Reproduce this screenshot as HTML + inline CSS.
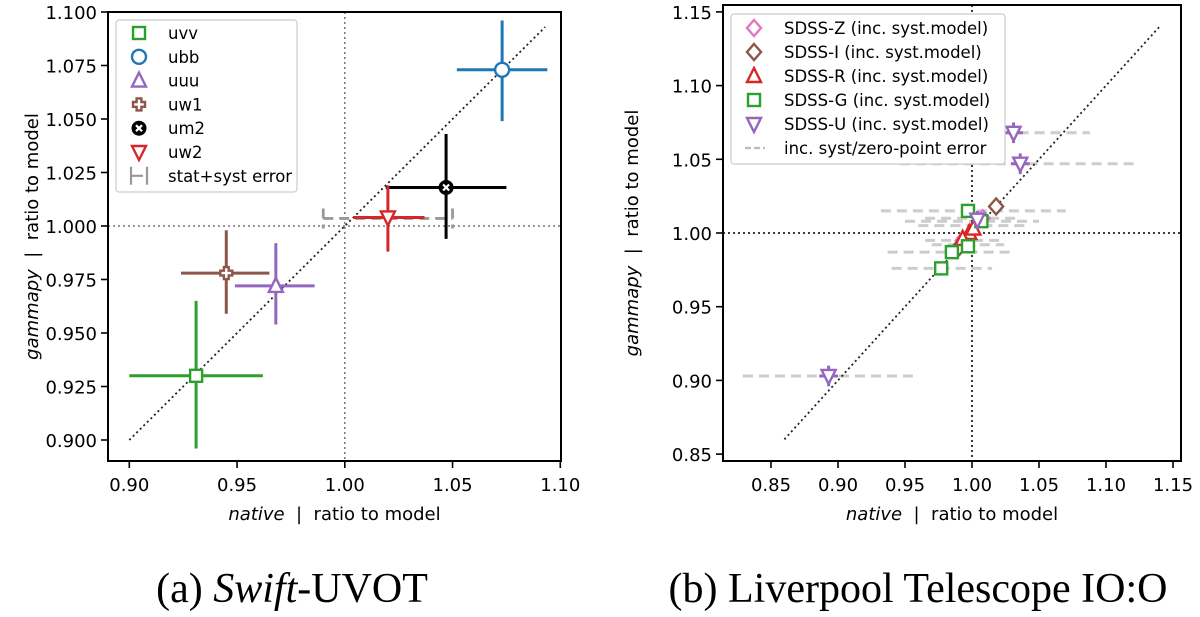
<!DOCTYPE html>
<html><head><meta charset="utf-8"><style>
html,body{margin:0;padding:0;background:#fff;}
svg{display:block;font-family:"DejaVu Sans","Liberation Sans",sans-serif;}
.tick{font-size:18px;fill:#000;}
.cap{font-family:"Liberation Serif",serif;font-size:42px;}
.ttl{white-space:pre;}
</style></head><body>
<svg id="svg" width="1200" height="617" viewBox="0 0 1200 617">
<g id="L"></g>
<g id="R"></g>
<text class="cap" x="292" y="602" text-anchor="middle">(a) <tspan font-style="italic">Swift</tspan>-UVOT</text>
<text class="cap" x="918" y="602" text-anchor="middle">(b) Liverpool Telescope IO:O</text>
</svg>
<script>
// ---- Left panel data ----
const swiftBands = ["uvv","ubb","uuu","uw1","um2","uw2"];
const swiftX = [0.931,1.073,0.968,0.945,1.047,1.020];
const swiftY = [0.930,1.073,0.972,0.978,1.018,1.004];
const swiftXlo = [0.900,1.052,0.949,0.924,1.019,1.004];
const swiftXhi = [0.962,1.094,0.986,0.965,1.075,1.037];
const swiftYlo = [0.896,1.049,0.954,0.959,0.994,0.988];
const swiftYhi = [0.965,1.096,0.992,0.998,1.043,1.019];
const swiftSystLo = [0.990];
const swiftSystHi = [1.050];
const swiftColors = ["#2ca02c","#1f77b4","#9467bd","#8c564b","#000000","#d62728"];
const swiftMarkers = ["s","o","^","P","X","v"];
const leftXTicks = [0.90,0.95,1.00,1.05,1.10];
const leftYTicks = [0.900,0.925,0.950,0.975,1.000,1.025,1.050,1.075,1.100];
// ---- Right panel data ----
const lvBands = ["SDSS-Z","SDSS-I","SDSS-R","SDSS-G","SDSS-U"];
const lvX = [[1.008,0.993],[1.018,0.990],[0.998,0.993,1.001],[0.997,1.007,0.997,0.985,0.977],[0.893,1.031,1.036,1.004]];
const lvY = [[1.010,0.995],[1.018,0.990],[1.000,0.996,1.003],[1.015,1.008,0.991,0.987,0.976],[0.903,1.068,1.047,1.009]];
const lvXerr = [[0.003,0.003],[0.002,0.002],[0.004,0.004,0.004],[0.002,0.002,0.002,0.002,0.002],[0.007,0.007,0.007,0.003]];
const lvYerr = [[0.002,0.002],[0.002,0.002],[0.003,0.003,0.003],[0.002,0.002,0.002,0.002,0.002],[0.007,0.007,0.007,0.006]];
const lvSystY = [0.903,1.068,1.047,1.015,1.008,1.010,1.005,0.995,0.992,0.987,0.976];
const lvSystLo = [0.829,0.975,0.946,0.932,0.950,0.965,0.960,0.965,0.970,0.937,0.940];
const lvSystHi = [0.956,1.088,1.125,1.070,1.050,1.035,1.040,1.025,1.024,1.031,1.015];
const lvColors = ["#e377c2","#8c564b","#d62728","#2ca02c","#9467bd"];
const lvMarkers = ["D","D","^","s","v"];
const rightXTicks = [0.85,0.90,0.95,1.00,1.05,1.10,1.15];
const rightYTicks = [0.85,0.90,0.95,1.00,1.05,1.10,1.15];

const NS="http://www.w3.org/2000/svg";
function mk(p,t,a){const e=document.createElementNS(NS,t);for(const k in a)e.setAttribute(k,a[k]);p.appendChild(e);return e;}
function marker(g,type,cx,cy,r,col,fill){
  let e;
  if(type==="s") e=mk(g,"rect",{x:cx-r,y:cy-r,width:2*r,height:2*r});
  else if(type==="o") e=mk(g,"circle",{cx:cx,cy:cy,r:r+1});
  else if(type==="D") e=mk(g,"polygon",{points:`${cx},${cy-r-2} ${cx+r+1},${cy} ${cx},${cy+r+2} ${cx-r-1},${cy}`});
  else if(type==="^") e=mk(g,"polygon",{points:`${cx},${cy-r-2} ${cx+r+1},${cy+r} ${cx-r-1},${cy+r}`});
  else if(type==="v") e=mk(g,"polygon",{points:`${cx},${cy+r+2} ${cx+r+1},${cy-r} ${cx-r-1},${cy-r}`});
  else if(type==="P"){const a=r*0.4;e=mk(g,"polygon",{points:`${cx-a},${cy-r} ${cx+a},${cy-r} ${cx+a},${cy-a} ${cx+r},${cy-a} ${cx+r},${cy+a} ${cx+a},${cy+a} ${cx+a},${cy+r} ${cx-a},${cy+r} ${cx-a},${cy+a} ${cx-r},${cy+a} ${cx-r},${cy-a} ${cx-a},${cy-a}`});}
  else if(type==="X"){e=mk(g,"circle",{cx:cx,cy:cy,r:r+1});e.setAttribute("fill",col);e.setAttribute("stroke",col);
    mk(g,"path",{d:`M${cx-3},${cy-3}L${cx+3},${cy+3}M${cx-3},${cy+3}L${cx+3},${cy-3}`,stroke:"#fff","stroke-width":2.2});return e;}
  e.setAttribute("fill",fill||"#fff");e.setAttribute("stroke",col);e.setAttribute("stroke-width",2.4);
  return e;
}
function axes(g,box,xs,ys,xt,yt,xfmt,yfmt){
  mk(g,"rect",{x:box.x0,y:box.y0,width:box.x1-box.x0,height:box.y1-box.y0,fill:"none",stroke:"#000","stroke-width":2});
  xt.forEach(v=>{const x=xs(v);mk(g,"line",{x1:x,x2:x,y1:box.y1,y2:box.y1+7,stroke:"#000","stroke-width":1.6});
    const t=mk(g,"text",{x:x,y:box.y1+30,"text-anchor":"middle",class:"tick"});t.textContent=v.toFixed(xfmt);
    
    });
  yt.forEach(v=>{const y=ys(v);mk(g,"line",{x1:box.x0-7,x2:box.x0,y1:y,y2:y,stroke:"#000","stroke-width":1.6});
    const t=mk(g,"text",{x:box.x0-11,y:y+7,"text-anchor":"end",class:"tick"});t.textContent=v.toFixed(yfmt);
    
    });
  const xl=mk(g,"text",{x:(box.x0+box.x1)/2,y:box.y1+59,"text-anchor":"middle","font-size":"18",class:"ttl"});
  xl.innerHTML='<tspan font-style="italic">native</tspan>  |  ratio to model';
  
  
  const cx=box.yl, cy=(box.y0+box.y1)/2;
  const yl=mk(g,"text",{x:cx,y:cy,"text-anchor":"middle","font-size":"18",class:"ttl",transform:`rotate(-90 ${cx} ${cy})`});
  yl.innerHTML='<tspan font-style="italic">gammapy</tspan>  |  ratio to model';
  
  
}
// ---------- LEFT ----------
(function(){
  const g=document.getElementById("L");
  const box={x0:108,x1:561,y0:12,y1:461,yl:38};
  const xs=v=>129.3+(v-0.9)*2155, ys=v=>226-(v-1)*2140;
  mk(g,"line",{x1:xs(1),x2:xs(1),y1:box.y0,y2:box.y1,stroke:"#777","stroke-width":1.5,"stroke-dasharray":"2,3"});
  mk(g,"line",{x1:box.x0,x2:box.x1,y1:ys(1),y2:ys(1),stroke:"#777","stroke-width":1.5,"stroke-dasharray":"2,3"});
  mk(g,"line",{x1:xs(0.9),y1:ys(0.9),x2:xs(1.093),y2:ys(1.093),stroke:"#222","stroke-width":1.8,"stroke-dasharray":"2,3"});
  const sy=ys(swiftY[5])+1;
  const sl=mk(g,"path",{d:`M${xs(swiftSystLo[0])},${sy}H${xs(swiftSystHi[0])}M${xs(swiftSystLo[0])},${sy-10}v20M${xs(swiftSystHi[0])},${sy-10}v20`,stroke:"#999","stroke-width":2.8,"stroke-dasharray":"10,6",fill:"none"});
  
  
  swiftBands.forEach((b,i)=>{
    const c=swiftColors[i];const pg=mk(g,"g",{});
    
    
    mk(pg,"line",{x1:xs(swiftXlo[i]),x2:xs(swiftXhi[i]),y1:ys(swiftY[i]),y2:ys(swiftY[i]),stroke:c,"stroke-width":3});
    mk(pg,"line",{x1:xs(swiftX[i]),x2:xs(swiftX[i]),y1:ys(swiftYlo[i]),y2:ys(swiftYhi[i]),stroke:c,"stroke-width":3});
    marker(pg,swiftMarkers[i],xs(swiftX[i]),ys(swiftY[i]),6,c);
  });
  axes(g,box,xs,ys,leftXTicks,leftYTicks,2,3);
  const lg=mk(g,"g",{});
  
  
  mk(lg,"rect",{x:116,y:20,width:181,height:172,rx:3,fill:"#fff",stroke:"#ccc","stroke-width":1.2});
  swiftBands.concat(["stat+syst error"]).forEach((b,i)=>{
    const y=33+i*23.8;
    if(i<6) marker(lg,swiftMarkers[i],139,y,6,swiftColors[i]);
    else mk(lg,"path",{d:`M131,${y-9}v18M147,${y-9}v18M131,${y}H143`,stroke:"#999","stroke-width":2.2,fill:"none"});
    const t=mk(lg,"text",{x:168,y:y+6,"font-size":"16.5"});t.textContent=b;
    
    
  });
})();
// ---------- RIGHT ----------
(function(){
  const g=document.getElementById("R");
  const box={x0:723,x1:1181,y0:5,y1:461,yl:638};
  const xs=v=>972+(v-1)*1340, ys=v=>233-(v-1)*1474;
  lvSystY.forEach((y,i)=>{
    const l=mk(g,"line",{x1:xs(lvSystLo[i]),x2:xs(lvSystHi[i]),y1:ys(y),y2:ys(y),stroke:"#ccc","stroke-width":3,"stroke-dasharray":"10,6"});
    
    
  });
  mk(g,"line",{x1:xs(1),x2:xs(1),y1:box.y0,y2:box.y1,stroke:"#222","stroke-width":1.8,"stroke-dasharray":"2,3"});
  mk(g,"line",{x1:box.x0,x2:box.x1,y1:ys(1),y2:ys(1),stroke:"#222","stroke-width":1.8,"stroke-dasharray":"2,3"});
  mk(g,"line",{x1:xs(0.86),y1:ys(0.86),x2:xs(1.14),y2:ys(1.14),stroke:"#222","stroke-width":1.8,"stroke-dasharray":"2,3"});
  lvBands.forEach((b,bi)=>{
    const c=lvColors[bi];
    lvX[bi].forEach((x,i)=>{
      const pg=mk(g,"g",{});
      
      
      const y=lvY[bi][i];
      mk(pg,"line",{x1:xs(x-lvXerr[bi][i]),x2:xs(x+lvXerr[bi][i]),y1:ys(y),y2:ys(y),stroke:c,"stroke-width":3});
      mk(pg,"line",{x1:xs(x),x2:xs(x),y1:ys(y-lvYerr[bi][i]),y2:ys(y+lvYerr[bi][i]),stroke:c,"stroke-width":3});
      marker(pg,lvMarkers[bi],xs(x),ys(y),6,c);
    });
  });
  axes(g,box,xs,ys,rightXTicks,rightYTicks,2,2);
  const lg=mk(g,"g",{});
  
  
  mk(lg,"rect",{x:731,y:14,width:274,height:150,rx:3,fill:"#fff",stroke:"#ccc","stroke-width":1.2});
  lvBands.concat(["inc. syst/zero-point error"]).forEach((b,i)=>{
    const y=28+i*24;
    if(i<5) marker(lg,lvMarkers[i],754,y,6,lvColors[i]);
    else mk(lg,"line",{x1:745,x2:765,y1:y,y2:y,stroke:"#bbb","stroke-width":2.2,"stroke-dasharray":"6,3"});
    const t=mk(lg,"text",{x:784,y:y+6,"font-size":"16.5"});t.textContent=i<5?b+" (inc. syst.model)":b;
    
    
  });
})();
</script>
</body></html>
